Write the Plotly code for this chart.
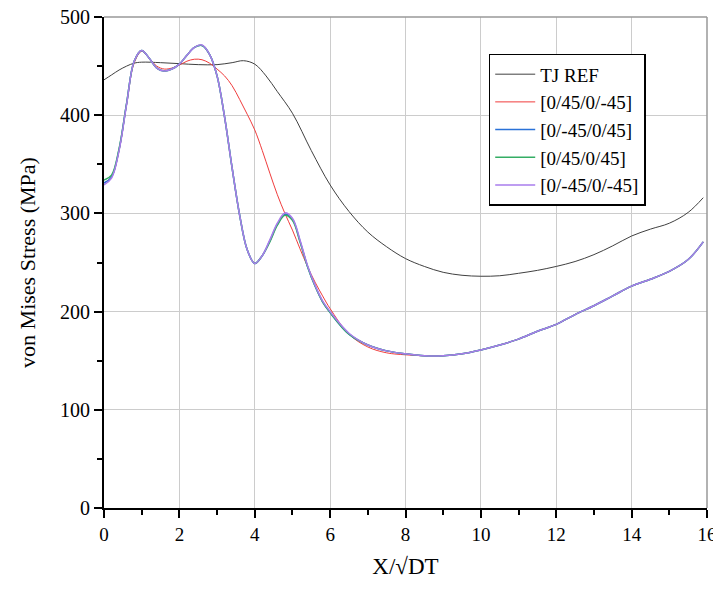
import plotly.graph_objects as go

# ---- data ----
x_ref = [0, 0.2, 0.4, 0.6, 0.8, 1.0, 1.5, 2.0, 2.5, 3.0, 3.4, 3.7, 4.0, 4.3, 4.6, 5.0,
         5.5, 6.0, 6.5, 7.0, 7.5, 8.0, 8.5, 9.0, 9.5, 10, 10.5, 11, 11.5, 12, 12.5,
         13, 13.5, 14, 14.5, 15, 15.5, 15.9]
tj_ref = [436, 441, 446, 450, 453, 454, 453.5, 452.5, 451.5, 451.5, 453.5, 455.5, 452, 440, 424, 402,
          364, 329, 302, 281, 266, 254, 246, 240, 237, 236, 236.5, 239, 242, 246, 251,
          258, 267, 277, 284, 290, 301, 316]

x_lam = [0, 0.2, 0.4, 0.6, 0.8, 1.0, 1.2, 1.4, 1.6, 1.8, 2.0, 2.2, 2.4, 2.6, 2.8, 3.0,
         3.2, 3.4, 3.6, 3.8, 4.0, 4.2, 4.4, 4.6, 4.8, 5.0, 5.2, 5.4, 5.6, 5.8, 6.0,
         6.5, 7.0, 7.5, 8.0, 8.5, 9.0, 9.5, 10, 10.5, 11, 11.5, 12, 12.5, 13, 13.5,
         14, 14.5, 15, 15.5, 15.9]

lam_a = [331, 337, 364, 411, 453, 465, 458, 450, 447, 448, 451, 455, 457, 456.5, 453, 447,
         440, 430, 416, 401, 385, 364, 341, 319, 300, 283, 264, 246, 230, 216, 203,
         177, 164, 158, 156, 155, 155, 157, 161, 166, 172, 180, 187, 197, 206, 216,
         226, 233, 241, 253, 271]

lam_b = [331, 337, 365, 412, 455, 466, 458, 448, 445, 447, 452, 461, 469, 471, 462, 440,
         398, 346, 298, 263, 249, 257, 272, 289, 299, 294, 272, 246, 226, 210, 199,
         177, 166, 160, 157, 155, 155, 157, 161, 166, 172, 180, 187, 197, 206, 216,
         226, 233, 241, 253, 271]

lam_c = [334, 339, 366, 412, 455, 466, 458, 448, 445, 447, 452, 461, 469, 471, 462, 440,
         398, 346, 298, 263, 249, 257, 271, 288, 298, 293, 271, 246, 226, 210, 199,
         177, 166, 160, 157, 155, 155, 157, 161, 166, 172, 180, 187, 197, 206, 216,
         226, 233, 241, 253, 271]

lam_d = [329, 336, 364, 411, 455, 466, 458, 448, 445, 447, 452, 461, 469, 471.5, 462, 440,
         398, 346, 298, 263, 249, 257, 273, 290, 300.5, 295, 273, 247, 227, 211, 200,
         178, 166, 160, 157, 155, 155, 157, 161, 166, 172, 180, 187, 197, 206, 216,
         226, 233, 241, 253, 271]

names = ["TJ REF", "[0/45/0/-45]", "[0/-45/0/45]", "[0/45/0/45]", "[0/-45/0/-45]"]
colors = ["#404040", "#f03c3c", "#2a72d8", "#34ad64", "#a97cec"]
widths = [1, 1, 1.5, 1.5, 1.5]

FONT = "Liberation Serif"

fig = go.Figure()
series = [(x_ref, tj_ref), (x_lam, lam_a), (x_lam, lam_b), (x_lam, lam_c), (x_lam, lam_d)]
for (xs, ys), n, c, w in zip(series, names, colors, widths):
    fig.add_trace(go.Scatter(x=xs, y=ys, name=n, mode="lines",
                             line=dict(color=c, width=w, shape="spline", smoothing=1)))

axis_common = dict(showline=True, linecolor="black", linewidth=2, ticks="outside",
                   tickwidth=1.5, tickcolor="black", ticklen=8, automargin=False,
                   ticklabeloverflow="allow",
                   showgrid=True, gridcolor="#cccccc", gridwidth=1, zeroline=False)

fig.update_xaxes(range=[0, 16], dtick=2, tick0=0,
                 tickfont=dict(family=FONT, size=19, color="black"),
                 minor=dict(dtick=1, ticklen=5, tickwidth=1.5, tickcolor="black", ticks="outside", showgrid=False),
                 title=dict(text="X/√DT", font=dict(family=FONT, size=23, color="black"), standoff=14),
                 **axis_common)
fig.update_yaxes(range=[0, 500], dtick=100, tick0=0,
                 tickfont=dict(family=FONT, size=20, color="black"),
                 minor=dict(dtick=50, ticklen=5, tickwidth=1.5, tickcolor="black", ticks="outside", showgrid=False),
                 title=dict(text="von Mises Stress (MPa)", font=dict(family=FONT, size=22, color="black"), standoff=18),
                 **axis_common)

# gray frame on top/right
fig.add_shape(type="line", xref="paper", yref="paper", x0=0, x1=1, y0=1, y1=1,
              line=dict(color="#999999", width=1.5))
fig.add_shape(type="line", xref="paper", yref="paper", x0=1, x1=1, y0=0, y1=1,
              line=dict(color="#999999", width=1.5))

# page body has an 8px margin, so the figure is sized/margined to compensate
fig.update_layout(
    width=713, height=581,
    margin=dict(l=96, r=14, t=9, b=81, autoexpand=False),
    paper_bgcolor="white", plot_bgcolor="white",
    font=dict(family=FONT, color="black"),
    showlegend=True,
    legend=dict(x=0.638, y=0.925, xanchor="left", yanchor="top",
                bgcolor="white", bordercolor="black", borderwidth=1.5,
                font=dict(family=FONT, size=19, color="black"),
                tracegroupgap=0, itemwidth=40),
)

fig.write_html("out.html")
